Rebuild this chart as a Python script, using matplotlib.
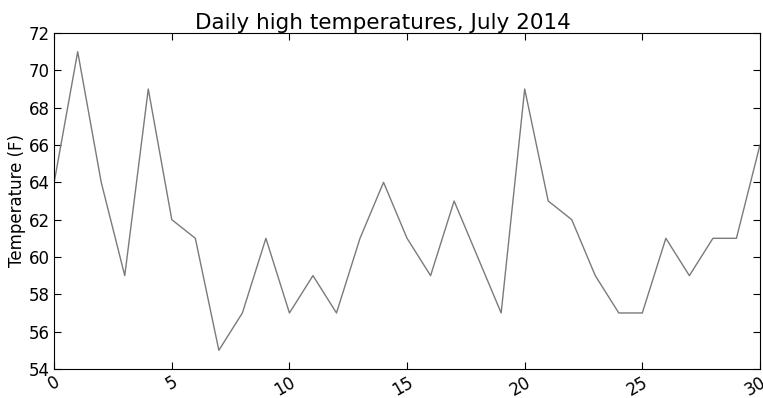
import matplotlib
matplotlib.use("Agg")
import matplotlib.pyplot as plt

# Sitka, July 2014 - daily highs (F)
days = list(range(0, 31))
highs = [64, 71, 64, 59, 69, 62, 61, 55, 57, 61, 57, 59, 57, 61, 64, 61,
         59, 63, 60, 57, 69, 63, 62, 59, 57, 57, 61, 59, 61, 61, 66]

fig = plt.figure(figsize=(7.63, 3.98), dpi=100)
ax = fig.add_axes([0.071, 0.073, 0.925, 0.844])
ax.plot(days, highs, color="#7a7a7a", linewidth=1.0)

ax.set_xlim(0, 30)
ax.set_ylim(54, 72)
ax.set_yticks(range(54, 73, 2))
ax.set_xticks(range(0, 31, 5))
ax.tick_params(direction="in", top=True, right=True, labelsize=12, length=5, pad=3)
for lbl in ax.get_xticklabels():
    lbl.set_rotation(30)
    lbl.set_ha("right")
    lbl.set_rotation_mode("anchor")

ax.set_title("Daily high temperatures, July 2014", fontsize=15.5, pad=3, x=0.466)
ax.set_ylabel("Temperature (F)", fontsize=12, labelpad=2)

fig.savefig("out.png", dpi=100)
